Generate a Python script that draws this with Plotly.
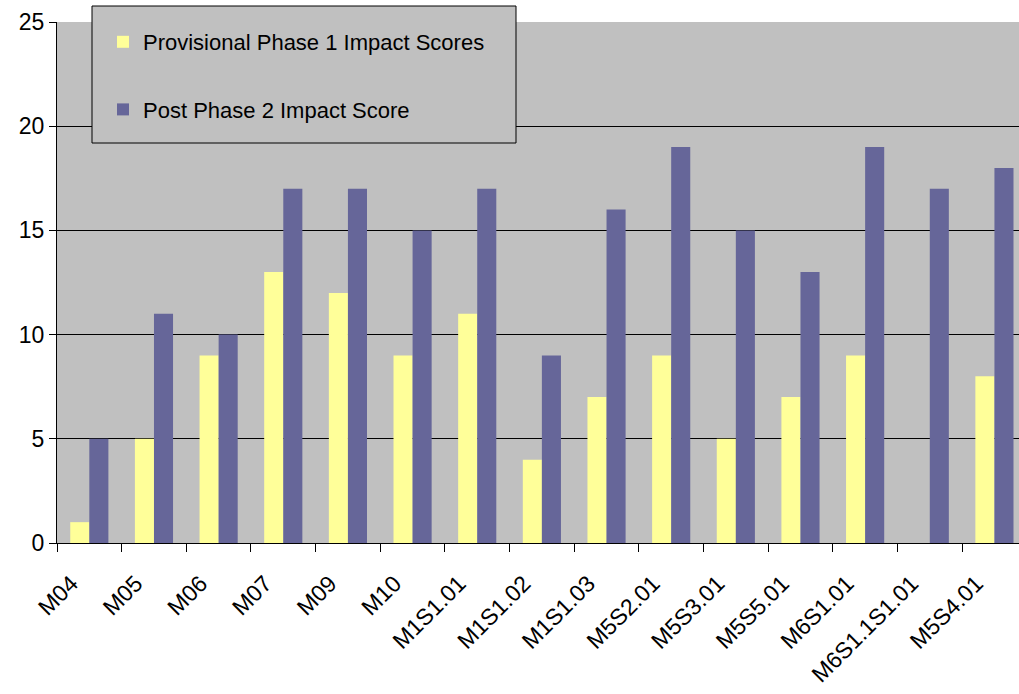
import plotly.graph_objects as go

categories = ["M04", "M05", "M06", "M07", "M09", "M10", "M1S1.01", "M1S1.02",
              "M1S1.03", "M5S2.01", "M5S3.01", "M5S5.01", "M6S1.01", "M6S1.1S1.01", "M5S4.01"]
phase1 = [1, 5, 9, 13, 12, 9, 11, 4, 7, 9, 5, 7, 9, 0, 8]
phase2 = [5, 11, 10, 17, 17, 15, 17, 9, 16, 19, 15, 13, 19, 17, 18]

FONT = "Liberation Sans, Arial, sans-serif"
W, H = 1019, 694
L, R, T, B = 57, 0, 22, 151
PW, PH = W - L - R, H - T - B

fig = go.Figure()
fig.add_trace(go.Bar(x=categories, y=phase1, name="Provisional Phase 1 Impact Scores",
                     marker=dict(color="#FFFF99", line=dict(width=0)), legendgroup="a"))
fig.add_trace(go.Bar(x=categories, y=phase2, name="Post Phase 2 Impact Score",
                     marker=dict(color="#666699", line=dict(width=0)), legendgroup="b"))

# legend frame
fig.add_shape(type="rect", xref="paper", yref="paper", layer="above",
              x0=(92 - L) / PW, x1=(516 - L) / PW,
              y0=(H - B - 143) / PH, y1=(H - B - 6) / PH,
              fillcolor="#C0C0C0", line=dict(color="black", width=1))

fig.update_layout(
    width=W, height=H,
    margin=dict(l=L, r=R, t=T, b=B, autoexpand=False),
    paper_bgcolor="white", plot_bgcolor="#C0C0C0",
    barmode="group", bargap=0.41, bargroupgap=0,
    font=dict(family=FONT, size=22, color="black"),
    showlegend=True,
    legend=dict(xref="container", yref="container",
                x=103 / W, y=1 - 21 / H, xanchor="left", yanchor="top",
                bgcolor="rgba(0,0,0,0)", borderwidth=0,
                font=dict(size=22), tracegroupgap=36, itemwidth=30,
                traceorder="grouped"),
    xaxis=dict(type="category", range=[-0.5, 14.38], tickson="boundaries",
               ticks="outside", ticklen=8, tickcolor="black", tickangle=-45,
               showline=True, linecolor="black", linewidth=1, showgrid=False,
               ticklabelstandoff=17, ticklabelshift=-18,
               tickfont=dict(size=23)),
    yaxis=dict(range=[0, 25], dtick=5, ticks="outside", ticklen=7, tickcolor="black",
               showline=True, linecolor="black", linewidth=1,
               showgrid=True, gridcolor="black", gridwidth=1, zeroline=False,
               tickfont=dict(size=23)),
)

fig.write_html("out.html", config={"displayModeBar": False},
               post_script="document.body.style.margin='0';document.body.style.overflow='hidden';")
